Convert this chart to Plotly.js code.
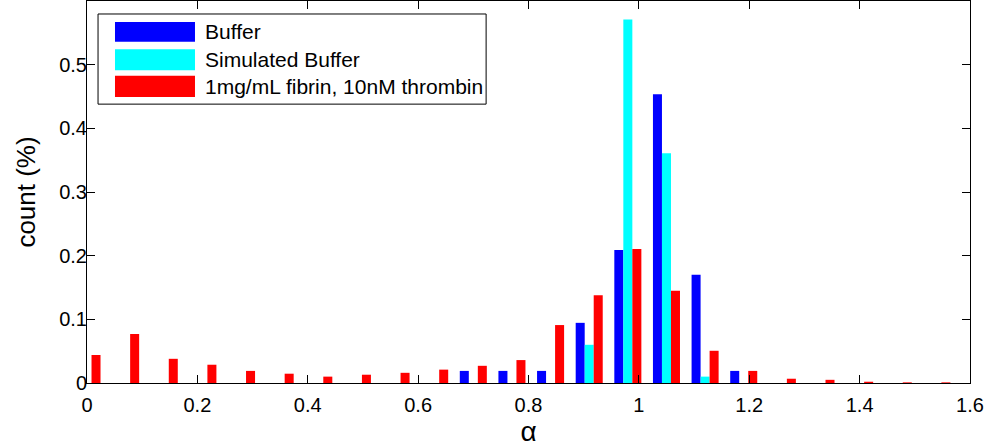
<!DOCTYPE html>
<html>
<head>
<meta charset="utf-8">
<script src="https://cdn.plot.ly/plotly-3.0.1.min.js"></script>
<style>html,body{margin:0;padding:0;background:#fff;}#chart{width:989px;height:448px;}</style>
</head>
<body>
<div id="chart"></div>
<script>
// Bin centres (alpha)
const binCenters = [0.00,0.07,0.14,0.21,0.28,0.35,0.42,0.49,0.56,0.63,0.70,0.77,0.84,0.91,0.98,1.05,1.12,1.19,1.26,1.33,1.40,1.47,1.54];
// Series values (count fraction)
const bufferVals =    [0,0,0,0,0,0,0,0,0,0,0.019,0.019,0.019,0.0945,0.209,0.4535,0.170,0.019,0,0,0,0,0];
const simulatedVals = [0,0,0,0,0,0,0,0,0,0,0,0,0,0.060,0.571,0.361,0.010,0,0,0,0,0,0];
const fibrinVals =    [0.044,0.077,0.038,0.0287,0.019,0.0146,0.010,0.013,0.016,0.021,0.027,0.036,0.091,0.138,0.2105,0.1447,0.0506,0.019,0.0067,0.005,0.002,0.001,0.001];
const seriesNames = ['Buffer','Simulated Buffer','1mg/mL fibrin, 10nM thrombin'];
const seriesColors = ['#0000ff','#00ffff','#ff0000'];
const xTicks = [0,0.2,0.4,0.6,0.8,1,1.2,1.4,1.6];
const xTickText = ['0','0.2','0.4','0.6','0.8','1','1.2','1.4','1.6'];
const yTicks = [0,0.1,0.2,0.3,0.4,0.5];
const yTickText = ['0','0.1','0.2','0.3','0.4','0.5'];

const allVals = [bufferVals, simulatedVals, fibrinVals];
const traces = allVals.map((v,i)=>({
  type:'bar', x:binCenters, y:v, name:seriesNames[i],
  marker:{color:seriesColors[i], line:{width:0}}, showlegend:false, hoverinfo:'skip'
}));

// Custom MATLAB-style legend (paper coords)
const legBox = {x0:0.0125, x1:0.452, y0:0.730, y1:0.966};
const rows = [[0.945,0.893],[0.874,0.819],[0.804,0.749]];
const shapes = [{type:'rect', xref:'paper', yref:'paper', x0:legBox.x0, x1:legBox.x1, y0:legBox.y0, y1:legBox.y1,
  line:{color:'#000', width:1}, fillcolor:'#fff', layer:'above'}];
const annotations = [];
rows.forEach((r,i)=>{
  shapes.push({type:'rect', xref:'paper', yref:'paper', x0:0.0317, x1:0.1223, y0:r[1], y1:r[0],
    line:{width:0}, fillcolor:seriesColors[i], layer:'above'});
  annotations.push({xref:'paper', yref:'paper', x:0.1315, y:(r[0]+r[1])/2, xanchor:'left', yanchor:'middle',
    text:seriesNames[i], showarrow:false, font:{family:'Liberation Sans, Arial', size:21, color:'#000'}});
});

const axFont = {family:'Liberation Sans, Arial', size:20, color:'#000'};
const layout = {
  width:989, height:448,
  margin:{l:87, r:19, t:1, b:65},
  paper_bgcolor:'#fff', plot_bgcolor:'#fff',
  barmode:'group', bargap:0.3, bargroupgap:0,
  font:axFont,
  xaxis:{range:[0,1.6], tickvals:xTicks, ticktext:xTickText, ticks:'inside', ticklen:8, tickcolor:'#000',
    showline:true, linecolor:'#000', linewidth:1, mirror:'ticks', showgrid:false, zeroline:false,
    tickfont:axFont, ticklabelstandoff:4,
    title:{text:'α', font:{family:'Liberation Sans, Arial', size:28, color:'#000'}, standoff:4}},
  yaxis:{range:[0,0.6], tickvals:yTicks, ticktext:yTickText, ticks:'inside', ticklen:8, tickcolor:'#000',
    showline:true, linecolor:'#000', linewidth:1, mirror:'ticks', showgrid:false, zeroline:false,
    tickfont:axFont, ticklabelstandoff:-5,
    title:{text:'count (%)', font:{family:'Liberation Sans, Arial', size:26, color:'#000'}, standoff:16}},
  shapes:shapes, annotations:annotations
};
Plotly.newPlot('chart', traces, layout, {staticPlot:true, displayModeBar:false});
</script>
</body>
</html>
